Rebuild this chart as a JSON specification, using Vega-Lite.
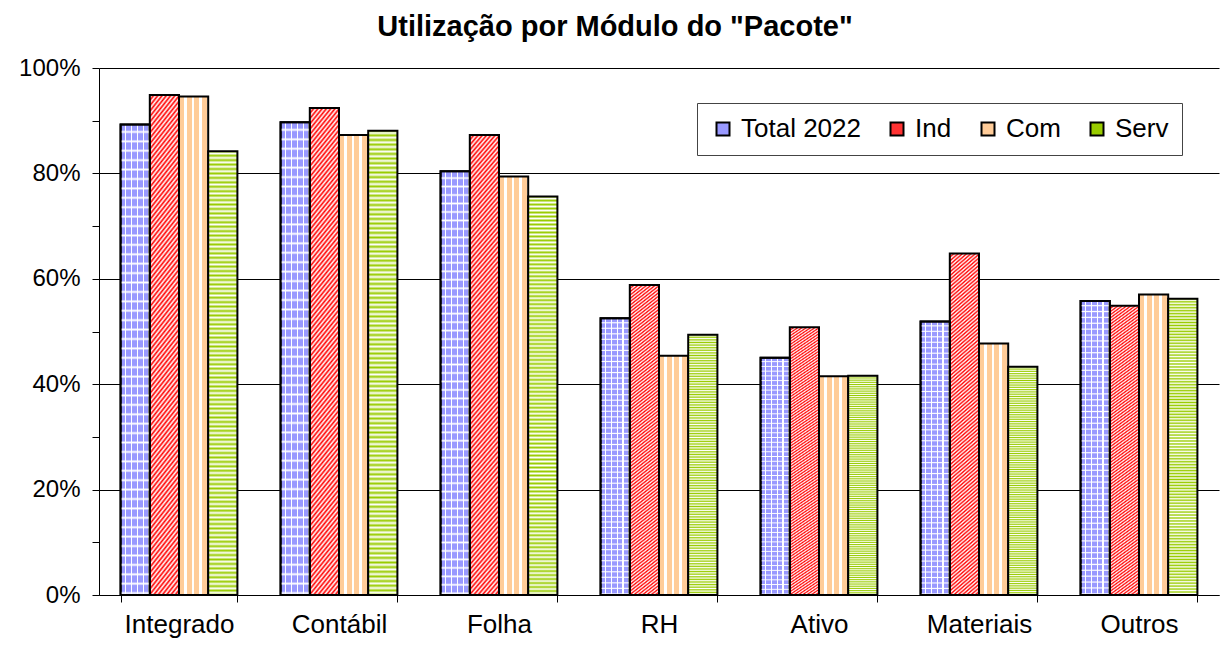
{"$schema":"https://vega.github.io/schema/vega-lite/v6.json","width":1120,"height":527,"autosize":{"type":"none"},"padding":{"left":99,"top":68,"right":11,"bottom":56},"background":"white",
"title":{"text":"Utilização por Módulo do \"Pacote\"","fontSize":29,"font":"Liberation Sans","fontWeight":"bold","color":"#000","anchor":"middle","offset":14,"dx":-44},
"config":{"view":{"stroke":null},"font":"Liberation Sans"},
"data":{"values":[
{"m":"Integrado","s":"Total 2022","v":0.893},{"m":"Integrado","s":"Ind","v":0.949},{"m":"Integrado","s":"Com","v":0.946},{"m":"Integrado","s":"Serv","v":0.842},
{"m":"Contábil","s":"Total 2022","v":0.897},{"m":"Contábil","s":"Ind","v":0.924},{"m":"Contábil","s":"Com","v":0.873},{"m":"Contábil","s":"Serv","v":0.881},
{"m":"Folha","s":"Total 2022","v":0.804},{"m":"Folha","s":"Ind","v":0.873},{"m":"Folha","s":"Com","v":0.794},{"m":"Folha","s":"Serv","v":0.756},
{"m":"RH","s":"Total 2022","v":0.525},{"m":"RH","s":"Ind","v":0.588},{"m":"RH","s":"Com","v":0.454},{"m":"RH","s":"Serv","v":0.494},
{"m":"Ativo","s":"Total 2022","v":0.450},{"m":"Ativo","s":"Ind","v":0.508},{"m":"Ativo","s":"Com","v":0.415},{"m":"Ativo","s":"Serv","v":0.416},
{"m":"Materiais","s":"Total 2022","v":0.519},{"m":"Materiais","s":"Ind","v":0.648},{"m":"Materiais","s":"Com","v":0.477},{"m":"Materiais","s":"Serv","v":0.433},
{"m":"Outros","s":"Total 2022","v":0.558},{"m":"Outros","s":"Ind","v":0.549},{"m":"Outros","s":"Com","v":0.570},{"m":"Outros","s":"Serv","v":0.562}
]},
"encoding":{
"x":{"field":"m","type":"nominal","scale":{"domain":["Integrado","Contábil","Folha","RH","Ativo","Materiais","Outros"],"paddingInner":0.27,"paddingOuter":0.135},"axis":{"title":null,"labelAngle":0,"labelFontSize":26,"labelFont":"Liberation Sans","labelColor":"#000","labelPadding":9,"tickBand":"extent","tickSize":7,"tickColor":"#000","domainColor":"#000","grid":false}},
"xOffset":{"field":"s","type":"nominal","scale":{"domain":["Total 2022","Ind","Com","Serv"],"paddingInner":0,"paddingOuter":0}},
"y":{"field":"v","type":"quantitative","scale":{"domain":[0,1],"nice":false},"axis":{"title":null,"values":[0,0.1,0.2,0.3,0.4,0.5,0.6,0.7,0.8,0.9,1],"format":".0%","labelExpr":"round(datum.value*100) % 20 === 0 ? datum.label : ''","labelFontSize":24,"labelFont":"Liberation Sans","labelColor":"#000","labelPadding":12,"tickSize":7,"tickColor":"#000","domainColor":"#000","grid":true,"gridColor":"#000","gridOpacity":{"condition":{"test":"round(datum.value*100) % 20 !== 0","value":0},"value":1}}}
},
"layer":[
{"mark":{"type":"bar"},"encoding":{"y2":{"field":"v"},"color":{"field":"s","type":"nominal","scale":{"domain":["Total 2022","Ind","Com","Serv"],"range":["#9999ff","#ff3333","#ffcc99","#99cc00"]},"legend":{"title":null,"orient":"none","legendX":598,"legendY":35,"direction":"horizontal","strokeColor":"#444","fillColor":"#fff","padding":13,"labelFontSize":26,"labelFont":"Liberation Sans","labelColor":"#000","symbolType":"square","symbolSize":169,"symbolStrokeColor":"#000","symbolStrokeWidth":2,"labelOffset":5,"columnPadding":23}}}},
{"mark":{"type":"bar","stroke":"#000","strokeWidth":2},"encoding":{"fill":{"condition":[
{"test":"datum.s === 'Total 2022'","value":{"gradient":"linear","x1":0,"y1":0,"x2":1,"y2":0,"stops":[{"offset":0,"color":"#99f"},{"offset":0.15,"color":"#99f"},{"offset":0.15,"color":"#fff"},{"offset":0.2,"color":"#fff"},{"offset":0.2,"color":"#99f"},{"offset":0.35,"color":"#99f"},{"offset":0.35,"color":"#fff"},{"offset":0.4,"color":"#fff"},{"offset":0.4,"color":"#99f"},{"offset":0.55,"color":"#99f"},{"offset":0.55,"color":"#fff"},{"offset":0.6,"color":"#fff"},{"offset":0.6,"color":"#99f"},{"offset":0.75,"color":"#99f"},{"offset":0.75,"color":"#fff"},{"offset":0.8,"color":"#fff"},{"offset":0.8,"color":"#99f"},{"offset":0.95,"color":"#99f"},{"offset":0.95,"color":"#fff"},{"offset":1,"color":"#fff"}]}},
{"test":"datum.s === 'Ind'","value":{"gradient":"linear","x1":0,"y1":0,"x2":0.08,"y2":1.08,"stops":[{"offset":0,"color":"#f00"},{"offset":0.005,"color":"#fff"},{"offset":0.01,"color":"#f00"},{"offset":0.015,"color":"#fff"},{"offset":0.02,"color":"#f00"},{"offset":0.025,"color":"#fff"},{"offset":0.03,"color":"#f00"},{"offset":0.035,"color":"#fff"},{"offset":0.04,"color":"#f00"},{"offset":0.045,"color":"#fff"},{"offset":0.05,"color":"#f00"},{"offset":0.055,"color":"#fff"},{"offset":0.06,"color":"#f00"},{"offset":0.065,"color":"#fff"},{"offset":0.07,"color":"#f00"},{"offset":0.075,"color":"#fff"},{"offset":0.08,"color":"#f00"},{"offset":0.085,"color":"#fff"},{"offset":0.09,"color":"#f00"},{"offset":0.095,"color":"#fff"},{"offset":0.1,"color":"#f00"},{"offset":0.105,"color":"#fff"},{"offset":0.11,"color":"#f00"},{"offset":0.115,"color":"#fff"},{"offset":0.12,"color":"#f00"},{"offset":0.125,"color":"#fff"},{"offset":0.13,"color":"#f00"},{"offset":0.135,"color":"#fff"},{"offset":0.14,"color":"#f00"},{"offset":0.145,"color":"#fff"},{"offset":0.15,"color":"#f00"},{"offset":0.155,"color":"#fff"},{"offset":0.16,"color":"#f00"},{"offset":0.165,"color":"#fff"},{"offset":0.17,"color":"#f00"},{"offset":0.175,"color":"#fff"},{"offset":0.18,"color":"#f00"},{"offset":0.185,"color":"#fff"},{"offset":0.19,"color":"#f00"},{"offset":0.195,"color":"#fff"},{"offset":0.2,"color":"#f00"},{"offset":0.205,"color":"#fff"},{"offset":0.21,"color":"#f00"},{"offset":0.215,"color":"#fff"},{"offset":0.22,"color":"#f00"},{"offset":0.225,"color":"#fff"},{"offset":0.23,"color":"#f00"},{"offset":0.235,"color":"#fff"},{"offset":0.24,"color":"#f00"},{"offset":0.245,"color":"#fff"},{"offset":0.25,"color":"#f00"},{"offset":0.255,"color":"#fff"},{"offset":0.26,"color":"#f00"},{"offset":0.265,"color":"#fff"},{"offset":0.27,"color":"#f00"},{"offset":0.275,"color":"#fff"},{"offset":0.28,"color":"#f00"},{"offset":0.285,"color":"#fff"},{"offset":0.29,"color":"#f00"},{"offset":0.295,"color":"#fff"},{"offset":0.3,"color":"#f00"},{"offset":0.305,"color":"#fff"},{"offset":0.31,"color":"#f00"},{"offset":0.315,"color":"#fff"},{"offset":0.32,"color":"#f00"},{"offset":0.325,"color":"#fff"},{"offset":0.33,"color":"#f00"},{"offset":0.335,"color":"#fff"},{"offset":0.34,"color":"#f00"},{"offset":0.345,"color":"#fff"},{"offset":0.35,"color":"#f00"},{"offset":0.355,"color":"#fff"},{"offset":0.36,"color":"#f00"},{"offset":0.365,"color":"#fff"},{"offset":0.37,"color":"#f00"},{"offset":0.375,"color":"#fff"},{"offset":0.38,"color":"#f00"},{"offset":0.385,"color":"#fff"},{"offset":0.39,"color":"#f00"},{"offset":0.395,"color":"#fff"},{"offset":0.4,"color":"#f00"},{"offset":0.405,"color":"#fff"},{"offset":0.41,"color":"#f00"},{"offset":0.415,"color":"#fff"},{"offset":0.42,"color":"#f00"},{"offset":0.425,"color":"#fff"},{"offset":0.43,"color":"#f00"},{"offset":0.435,"color":"#fff"},{"offset":0.44,"color":"#f00"},{"offset":0.445,"color":"#fff"},{"offset":0.45,"color":"#f00"},{"offset":0.455,"color":"#fff"},{"offset":0.46,"color":"#f00"},{"offset":0.465,"color":"#fff"},{"offset":0.47,"color":"#f00"},{"offset":0.475,"color":"#fff"},{"offset":0.48,"color":"#f00"},{"offset":0.485,"color":"#fff"},{"offset":0.49,"color":"#f00"},{"offset":0.495,"color":"#fff"},{"offset":0.5,"color":"#f00"},{"offset":0.505,"color":"#fff"},{"offset":0.51,"color":"#f00"},{"offset":0.515,"color":"#fff"},{"offset":0.52,"color":"#f00"},{"offset":0.525,"color":"#fff"},{"offset":0.53,"color":"#f00"},{"offset":0.535,"color":"#fff"},{"offset":0.54,"color":"#f00"},{"offset":0.545,"color":"#fff"},{"offset":0.55,"color":"#f00"},{"offset":0.555,"color":"#fff"},{"offset":0.56,"color":"#f00"},{"offset":0.565,"color":"#fff"},{"offset":0.57,"color":"#f00"},{"offset":0.575,"color":"#fff"},{"offset":0.58,"color":"#f00"},{"offset":0.585,"color":"#fff"},{"offset":0.59,"color":"#f00"},{"offset":0.595,"color":"#fff"},{"offset":0.6,"color":"#f00"},{"offset":0.605,"color":"#fff"},{"offset":0.61,"color":"#f00"},{"offset":0.615,"color":"#fff"},{"offset":0.62,"color":"#f00"},{"offset":0.625,"color":"#fff"},{"offset":0.63,"color":"#f00"},{"offset":0.635,"color":"#fff"},{"offset":0.64,"color":"#f00"},{"offset":0.645,"color":"#fff"},{"offset":0.65,"color":"#f00"},{"offset":0.655,"color":"#fff"},{"offset":0.66,"color":"#f00"},{"offset":0.665,"color":"#fff"},{"offset":0.67,"color":"#f00"},{"offset":0.675,"color":"#fff"},{"offset":0.68,"color":"#f00"},{"offset":0.685,"color":"#fff"},{"offset":0.69,"color":"#f00"},{"offset":0.695,"color":"#fff"},{"offset":0.7,"color":"#f00"},{"offset":0.705,"color":"#fff"},{"offset":0.71,"color":"#f00"},{"offset":0.715,"color":"#fff"},{"offset":0.72,"color":"#f00"},{"offset":0.725,"color":"#fff"},{"offset":0.73,"color":"#f00"},{"offset":0.735,"color":"#fff"},{"offset":0.74,"color":"#f00"},{"offset":0.745,"color":"#fff"},{"offset":0.75,"color":"#f00"},{"offset":0.755,"color":"#fff"},{"offset":0.76,"color":"#f00"},{"offset":0.765,"color":"#fff"},{"offset":0.77,"color":"#f00"},{"offset":0.775,"color":"#fff"},{"offset":0.78,"color":"#f00"},{"offset":0.785,"color":"#fff"},{"offset":0.79,"color":"#f00"},{"offset":0.795,"color":"#fff"},{"offset":0.8,"color":"#f00"},{"offset":0.805,"color":"#fff"},{"offset":0.81,"color":"#f00"},{"offset":0.815,"color":"#fff"},{"offset":0.82,"color":"#f00"},{"offset":0.825,"color":"#fff"},{"offset":0.83,"color":"#f00"},{"offset":0.835,"color":"#fff"},{"offset":0.84,"color":"#f00"},{"offset":0.845,"color":"#fff"},{"offset":0.85,"color":"#f00"},{"offset":0.855,"color":"#fff"},{"offset":0.86,"color":"#f00"},{"offset":0.865,"color":"#fff"},{"offset":0.87,"color":"#f00"},{"offset":0.875,"color":"#fff"},{"offset":0.88,"color":"#f00"},{"offset":0.885,"color":"#fff"},{"offset":0.89,"color":"#f00"},{"offset":0.895,"color":"#fff"},{"offset":0.9,"color":"#f00"},{"offset":0.905,"color":"#fff"},{"offset":0.91,"color":"#f00"},{"offset":0.915,"color":"#fff"},{"offset":0.92,"color":"#f00"},{"offset":0.925,"color":"#fff"},{"offset":0.93,"color":"#f00"},{"offset":0.935,"color":"#fff"},{"offset":0.94,"color":"#f00"},{"offset":0.945,"color":"#fff"},{"offset":0.95,"color":"#f00"},{"offset":0.955,"color":"#fff"},{"offset":0.96,"color":"#f00"},{"offset":0.965,"color":"#fff"},{"offset":0.97,"color":"#f00"},{"offset":0.975,"color":"#fff"},{"offset":0.98,"color":"#f00"},{"offset":0.985,"color":"#fff"},{"offset":0.99,"color":"#f00"},{"offset":0.995,"color":"#fff"},{"offset":1,"color":"#f00"}]}},
{"test":"datum.s === 'Com'","value":{"gradient":"linear","x1":0,"y1":0,"x2":1,"y2":0,"stops":[{"offset":0,"color":"#fc9"},{"offset":0.17,"color":"#fc9"},{"offset":0.17,"color":"#fff"},{"offset":0.26,"color":"#fff"},{"offset":0.26,"color":"#fc9"},{"offset":0.43,"color":"#fc9"},{"offset":0.43,"color":"#fff"},{"offset":0.52,"color":"#fff"},{"offset":0.52,"color":"#fc9"},{"offset":0.69,"color":"#fc9"},{"offset":0.69,"color":"#fff"},{"offset":0.78,"color":"#fff"},{"offset":0.78,"color":"#fc9"},{"offset":0.95,"color":"#fc9"},{"offset":0.95,"color":"#fff"},{"offset":1,"color":"#fff"}]}}
],"value":{"gradient":"linear","x1":0,"y1":0,"x2":0,"y2":1,"stops":[{"offset":0,"color":"#9c0"},{"offset":0.005,"color":"#fff"},{"offset":0.01,"color":"#9c0"},{"offset":0.015,"color":"#fff"},{"offset":0.02,"color":"#9c0"},{"offset":0.025,"color":"#fff"},{"offset":0.03,"color":"#9c0"},{"offset":0.035,"color":"#fff"},{"offset":0.04,"color":"#9c0"},{"offset":0.045,"color":"#fff"},{"offset":0.05,"color":"#9c0"},{"offset":0.055,"color":"#fff"},{"offset":0.06,"color":"#9c0"},{"offset":0.065,"color":"#fff"},{"offset":0.07,"color":"#9c0"},{"offset":0.075,"color":"#fff"},{"offset":0.08,"color":"#9c0"},{"offset":0.085,"color":"#fff"},{"offset":0.09,"color":"#9c0"},{"offset":0.095,"color":"#fff"},{"offset":0.1,"color":"#9c0"},{"offset":0.105,"color":"#fff"},{"offset":0.11,"color":"#9c0"},{"offset":0.115,"color":"#fff"},{"offset":0.12,"color":"#9c0"},{"offset":0.125,"color":"#fff"},{"offset":0.13,"color":"#9c0"},{"offset":0.135,"color":"#fff"},{"offset":0.14,"color":"#9c0"},{"offset":0.145,"color":"#fff"},{"offset":0.15,"color":"#9c0"},{"offset":0.155,"color":"#fff"},{"offset":0.16,"color":"#9c0"},{"offset":0.165,"color":"#fff"},{"offset":0.17,"color":"#9c0"},{"offset":0.175,"color":"#fff"},{"offset":0.18,"color":"#9c0"},{"offset":0.185,"color":"#fff"},{"offset":0.19,"color":"#9c0"},{"offset":0.195,"color":"#fff"},{"offset":0.2,"color":"#9c0"},{"offset":0.205,"color":"#fff"},{"offset":0.21,"color":"#9c0"},{"offset":0.215,"color":"#fff"},{"offset":0.22,"color":"#9c0"},{"offset":0.225,"color":"#fff"},{"offset":0.23,"color":"#9c0"},{"offset":0.235,"color":"#fff"},{"offset":0.24,"color":"#9c0"},{"offset":0.245,"color":"#fff"},{"offset":0.25,"color":"#9c0"},{"offset":0.255,"color":"#fff"},{"offset":0.26,"color":"#9c0"},{"offset":0.265,"color":"#fff"},{"offset":0.27,"color":"#9c0"},{"offset":0.275,"color":"#fff"},{"offset":0.28,"color":"#9c0"},{"offset":0.285,"color":"#fff"},{"offset":0.29,"color":"#9c0"},{"offset":0.295,"color":"#fff"},{"offset":0.3,"color":"#9c0"},{"offset":0.305,"color":"#fff"},{"offset":0.31,"color":"#9c0"},{"offset":0.315,"color":"#fff"},{"offset":0.32,"color":"#9c0"},{"offset":0.325,"color":"#fff"},{"offset":0.33,"color":"#9c0"},{"offset":0.335,"color":"#fff"},{"offset":0.34,"color":"#9c0"},{"offset":0.345,"color":"#fff"},{"offset":0.35,"color":"#9c0"},{"offset":0.355,"color":"#fff"},{"offset":0.36,"color":"#9c0"},{"offset":0.365,"color":"#fff"},{"offset":0.37,"color":"#9c0"},{"offset":0.375,"color":"#fff"},{"offset":0.38,"color":"#9c0"},{"offset":0.385,"color":"#fff"},{"offset":0.39,"color":"#9c0"},{"offset":0.395,"color":"#fff"},{"offset":0.4,"color":"#9c0"},{"offset":0.405,"color":"#fff"},{"offset":0.41,"color":"#9c0"},{"offset":0.415,"color":"#fff"},{"offset":0.42,"color":"#9c0"},{"offset":0.425,"color":"#fff"},{"offset":0.43,"color":"#9c0"},{"offset":0.435,"color":"#fff"},{"offset":0.44,"color":"#9c0"},{"offset":0.445,"color":"#fff"},{"offset":0.45,"color":"#9c0"},{"offset":0.455,"color":"#fff"},{"offset":0.46,"color":"#9c0"},{"offset":0.465,"color":"#fff"},{"offset":0.47,"color":"#9c0"},{"offset":0.475,"color":"#fff"},{"offset":0.48,"color":"#9c0"},{"offset":0.485,"color":"#fff"},{"offset":0.49,"color":"#9c0"},{"offset":0.495,"color":"#fff"},{"offset":0.5,"color":"#9c0"},{"offset":0.505,"color":"#fff"},{"offset":0.51,"color":"#9c0"},{"offset":0.515,"color":"#fff"},{"offset":0.52,"color":"#9c0"},{"offset":0.525,"color":"#fff"},{"offset":0.53,"color":"#9c0"},{"offset":0.535,"color":"#fff"},{"offset":0.54,"color":"#9c0"},{"offset":0.545,"color":"#fff"},{"offset":0.55,"color":"#9c0"},{"offset":0.555,"color":"#fff"},{"offset":0.56,"color":"#9c0"},{"offset":0.565,"color":"#fff"},{"offset":0.57,"color":"#9c0"},{"offset":0.575,"color":"#fff"},{"offset":0.58,"color":"#9c0"},{"offset":0.585,"color":"#fff"},{"offset":0.59,"color":"#9c0"},{"offset":0.595,"color":"#fff"},{"offset":0.6,"color":"#9c0"},{"offset":0.605,"color":"#fff"},{"offset":0.61,"color":"#9c0"},{"offset":0.615,"color":"#fff"},{"offset":0.62,"color":"#9c0"},{"offset":0.625,"color":"#fff"},{"offset":0.63,"color":"#9c0"},{"offset":0.635,"color":"#fff"},{"offset":0.64,"color":"#9c0"},{"offset":0.645,"color":"#fff"},{"offset":0.65,"color":"#9c0"},{"offset":0.655,"color":"#fff"},{"offset":0.66,"color":"#9c0"},{"offset":0.665,"color":"#fff"},{"offset":0.67,"color":"#9c0"},{"offset":0.675,"color":"#fff"},{"offset":0.68,"color":"#9c0"},{"offset":0.685,"color":"#fff"},{"offset":0.69,"color":"#9c0"},{"offset":0.695,"color":"#fff"},{"offset":0.7,"color":"#9c0"},{"offset":0.705,"color":"#fff"},{"offset":0.71,"color":"#9c0"},{"offset":0.715,"color":"#fff"},{"offset":0.72,"color":"#9c0"},{"offset":0.725,"color":"#fff"},{"offset":0.73,"color":"#9c0"},{"offset":0.735,"color":"#fff"},{"offset":0.74,"color":"#9c0"},{"offset":0.745,"color":"#fff"},{"offset":0.75,"color":"#9c0"},{"offset":0.755,"color":"#fff"},{"offset":0.76,"color":"#9c0"},{"offset":0.765,"color":"#fff"},{"offset":0.77,"color":"#9c0"},{"offset":0.775,"color":"#fff"},{"offset":0.78,"color":"#9c0"},{"offset":0.785,"color":"#fff"},{"offset":0.79,"color":"#9c0"},{"offset":0.795,"color":"#fff"},{"offset":0.8,"color":"#9c0"},{"offset":0.805,"color":"#fff"},{"offset":0.81,"color":"#9c0"},{"offset":0.815,"color":"#fff"},{"offset":0.82,"color":"#9c0"},{"offset":0.825,"color":"#fff"},{"offset":0.83,"color":"#9c0"},{"offset":0.835,"color":"#fff"},{"offset":0.84,"color":"#9c0"},{"offset":0.845,"color":"#fff"},{"offset":0.85,"color":"#9c0"},{"offset":0.855,"color":"#fff"},{"offset":0.86,"color":"#9c0"},{"offset":0.865,"color":"#fff"},{"offset":0.87,"color":"#9c0"},{"offset":0.875,"color":"#fff"},{"offset":0.88,"color":"#9c0"},{"offset":0.885,"color":"#fff"},{"offset":0.89,"color":"#9c0"},{"offset":0.895,"color":"#fff"},{"offset":0.9,"color":"#9c0"},{"offset":0.905,"color":"#fff"},{"offset":0.91,"color":"#9c0"},{"offset":0.915,"color":"#fff"},{"offset":0.92,"color":"#9c0"},{"offset":0.925,"color":"#fff"},{"offset":0.93,"color":"#9c0"},{"offset":0.935,"color":"#fff"},{"offset":0.94,"color":"#9c0"},{"offset":0.945,"color":"#fff"},{"offset":0.95,"color":"#9c0"},{"offset":0.955,"color":"#fff"},{"offset":0.96,"color":"#9c0"},{"offset":0.965,"color":"#fff"},{"offset":0.97,"color":"#9c0"},{"offset":0.975,"color":"#fff"},{"offset":0.98,"color":"#9c0"},{"offset":0.985,"color":"#fff"},{"offset":0.99,"color":"#9c0"},{"offset":0.995,"color":"#fff"},{"offset":1,"color":"#9c0"}]}}}},
{"transform":[{"filter":"datum.s === 'Total 2022'"}],"mark":{"type":"bar","stroke":"#000","strokeWidth":2,"fill":{"gradient":"linear","x1":0,"y1":0,"x2":0,"y2":1,"stops":[{"offset":0,"color":"rgba(255,255,255,0)"},{"offset":0.012,"color":"rgba(255,255,255,0)"},{"offset":0.016,"color":"#fff"},{"offset":0.02,"color":"rgba(255,255,255,0)"},{"offset":0.032,"color":"rgba(255,255,255,0)"},{"offset":0.036,"color":"#fff"},{"offset":0.04,"color":"rgba(255,255,255,0)"},{"offset":0.052,"color":"rgba(255,255,255,0)"},{"offset":0.056,"color":"#fff"},{"offset":0.06,"color":"rgba(255,255,255,0)"},{"offset":0.072,"color":"rgba(255,255,255,0)"},{"offset":0.076,"color":"#fff"},{"offset":0.08,"color":"rgba(255,255,255,0)"},{"offset":0.092,"color":"rgba(255,255,255,0)"},{"offset":0.096,"color":"#fff"},{"offset":0.1,"color":"rgba(255,255,255,0)"},{"offset":0.112,"color":"rgba(255,255,255,0)"},{"offset":0.116,"color":"#fff"},{"offset":0.12,"color":"rgba(255,255,255,0)"},{"offset":0.132,"color":"rgba(255,255,255,0)"},{"offset":0.136,"color":"#fff"},{"offset":0.14,"color":"rgba(255,255,255,0)"},{"offset":0.152,"color":"rgba(255,255,255,0)"},{"offset":0.156,"color":"#fff"},{"offset":0.16,"color":"rgba(255,255,255,0)"},{"offset":0.172,"color":"rgba(255,255,255,0)"},{"offset":0.176,"color":"#fff"},{"offset":0.18,"color":"rgba(255,255,255,0)"},{"offset":0.192,"color":"rgba(255,255,255,0)"},{"offset":0.196,"color":"#fff"},{"offset":0.2,"color":"rgba(255,255,255,0)"},{"offset":0.212,"color":"rgba(255,255,255,0)"},{"offset":0.216,"color":"#fff"},{"offset":0.22,"color":"rgba(255,255,255,0)"},{"offset":0.232,"color":"rgba(255,255,255,0)"},{"offset":0.236,"color":"#fff"},{"offset":0.24,"color":"rgba(255,255,255,0)"},{"offset":0.252,"color":"rgba(255,255,255,0)"},{"offset":0.256,"color":"#fff"},{"offset":0.26,"color":"rgba(255,255,255,0)"},{"offset":0.272,"color":"rgba(255,255,255,0)"},{"offset":0.276,"color":"#fff"},{"offset":0.28,"color":"rgba(255,255,255,0)"},{"offset":0.292,"color":"rgba(255,255,255,0)"},{"offset":0.296,"color":"#fff"},{"offset":0.3,"color":"rgba(255,255,255,0)"},{"offset":0.312,"color":"rgba(255,255,255,0)"},{"offset":0.316,"color":"#fff"},{"offset":0.32,"color":"rgba(255,255,255,0)"},{"offset":0.332,"color":"rgba(255,255,255,0)"},{"offset":0.336,"color":"#fff"},{"offset":0.34,"color":"rgba(255,255,255,0)"},{"offset":0.352,"color":"rgba(255,255,255,0)"},{"offset":0.356,"color":"#fff"},{"offset":0.36,"color":"rgba(255,255,255,0)"},{"offset":0.372,"color":"rgba(255,255,255,0)"},{"offset":0.376,"color":"#fff"},{"offset":0.38,"color":"rgba(255,255,255,0)"},{"offset":0.392,"color":"rgba(255,255,255,0)"},{"offset":0.396,"color":"#fff"},{"offset":0.4,"color":"rgba(255,255,255,0)"},{"offset":0.412,"color":"rgba(255,255,255,0)"},{"offset":0.416,"color":"#fff"},{"offset":0.42,"color":"rgba(255,255,255,0)"},{"offset":0.432,"color":"rgba(255,255,255,0)"},{"offset":0.436,"color":"#fff"},{"offset":0.44,"color":"rgba(255,255,255,0)"},{"offset":0.452,"color":"rgba(255,255,255,0)"},{"offset":0.456,"color":"#fff"},{"offset":0.46,"color":"rgba(255,255,255,0)"},{"offset":0.472,"color":"rgba(255,255,255,0)"},{"offset":0.476,"color":"#fff"},{"offset":0.48,"color":"rgba(255,255,255,0)"},{"offset":0.492,"color":"rgba(255,255,255,0)"},{"offset":0.496,"color":"#fff"},{"offset":0.5,"color":"rgba(255,255,255,0)"},{"offset":0.512,"color":"rgba(255,255,255,0)"},{"offset":0.516,"color":"#fff"},{"offset":0.52,"color":"rgba(255,255,255,0)"},{"offset":0.532,"color":"rgba(255,255,255,0)"},{"offset":0.536,"color":"#fff"},{"offset":0.54,"color":"rgba(255,255,255,0)"},{"offset":0.552,"color":"rgba(255,255,255,0)"},{"offset":0.556,"color":"#fff"},{"offset":0.56,"color":"rgba(255,255,255,0)"},{"offset":0.572,"color":"rgba(255,255,255,0)"},{"offset":0.576,"color":"#fff"},{"offset":0.58,"color":"rgba(255,255,255,0)"},{"offset":0.592,"color":"rgba(255,255,255,0)"},{"offset":0.596,"color":"#fff"},{"offset":0.6,"color":"rgba(255,255,255,0)"},{"offset":0.612,"color":"rgba(255,255,255,0)"},{"offset":0.616,"color":"#fff"},{"offset":0.62,"color":"rgba(255,255,255,0)"},{"offset":0.632,"color":"rgba(255,255,255,0)"},{"offset":0.636,"color":"#fff"},{"offset":0.64,"color":"rgba(255,255,255,0)"},{"offset":0.652,"color":"rgba(255,255,255,0)"},{"offset":0.656,"color":"#fff"},{"offset":0.66,"color":"rgba(255,255,255,0)"},{"offset":0.672,"color":"rgba(255,255,255,0)"},{"offset":0.676,"color":"#fff"},{"offset":0.68,"color":"rgba(255,255,255,0)"},{"offset":0.692,"color":"rgba(255,255,255,0)"},{"offset":0.696,"color":"#fff"},{"offset":0.7,"color":"rgba(255,255,255,0)"},{"offset":0.712,"color":"rgba(255,255,255,0)"},{"offset":0.716,"color":"#fff"},{"offset":0.72,"color":"rgba(255,255,255,0)"},{"offset":0.732,"color":"rgba(255,255,255,0)"},{"offset":0.736,"color":"#fff"},{"offset":0.74,"color":"rgba(255,255,255,0)"},{"offset":0.752,"color":"rgba(255,255,255,0)"},{"offset":0.756,"color":"#fff"},{"offset":0.76,"color":"rgba(255,255,255,0)"},{"offset":0.772,"color":"rgba(255,255,255,0)"},{"offset":0.776,"color":"#fff"},{"offset":0.78,"color":"rgba(255,255,255,0)"},{"offset":0.792,"color":"rgba(255,255,255,0)"},{"offset":0.796,"color":"#fff"},{"offset":0.8,"color":"rgba(255,255,255,0)"},{"offset":0.812,"color":"rgba(255,255,255,0)"},{"offset":0.816,"color":"#fff"},{"offset":0.82,"color":"rgba(255,255,255,0)"},{"offset":0.832,"color":"rgba(255,255,255,0)"},{"offset":0.836,"color":"#fff"},{"offset":0.84,"color":"rgba(255,255,255,0)"},{"offset":0.852,"color":"rgba(255,255,255,0)"},{"offset":0.856,"color":"#fff"},{"offset":0.86,"color":"rgba(255,255,255,0)"},{"offset":0.872,"color":"rgba(255,255,255,0)"},{"offset":0.876,"color":"#fff"},{"offset":0.88,"color":"rgba(255,255,255,0)"},{"offset":0.892,"color":"rgba(255,255,255,0)"},{"offset":0.896,"color":"#fff"},{"offset":0.9,"color":"rgba(255,255,255,0)"},{"offset":0.912,"color":"rgba(255,255,255,0)"},{"offset":0.916,"color":"#fff"},{"offset":0.92,"color":"rgba(255,255,255,0)"},{"offset":0.932,"color":"rgba(255,255,255,0)"},{"offset":0.936,"color":"#fff"},{"offset":0.94,"color":"rgba(255,255,255,0)"},{"offset":0.952,"color":"rgba(255,255,255,0)"},{"offset":0.956,"color":"#fff"},{"offset":0.96,"color":"rgba(255,255,255,0)"},{"offset":0.972,"color":"rgba(255,255,255,0)"},{"offset":0.976,"color":"#fff"},{"offset":0.98,"color":"rgba(255,255,255,0)"},{"offset":0.992,"color":"rgba(255,255,255,0)"},{"offset":0.996,"color":"#fff"},{"offset":1,"color":"rgba(255,255,255,0)"}]}}}
]}
